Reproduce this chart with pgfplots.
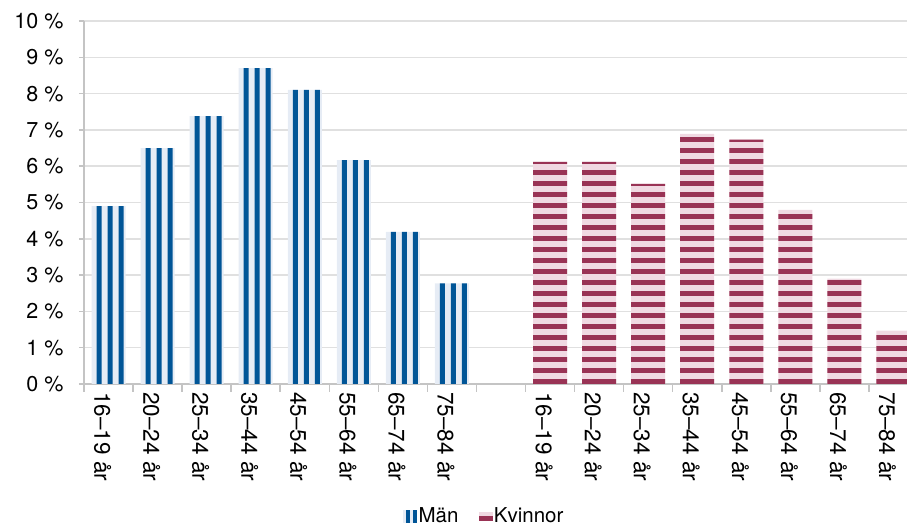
\documentclass[border=0pt]{standalone}
\usepackage{fontspec}
\setmainfont{TeX Gyre Heros}
\usepackage{pgfplots}
\pgfplotsset{compat=1.18}
\definecolor{menblue}{HTML}{005597}
\definecolor{menlight}{HTML}{E6ECF5}
\definecolor{womendark}{HTML}{993355}
\definecolor{womenlight}{HTML}{F0D9E2}
\definecolor{gridgray}{HTML}{E0E0E0}
\definecolor{axisgray}{HTML}{C4C4C4}
\begin{document}
\begin{tikzpicture}
\useasboundingbox (0,0) rectangle (907pt,527pt);
\begin{axis}[
  at={(84pt,143pt)}, anchor=south west,
  scale only axis, width=834pt, height=363pt,
  xmin=-0.5, xmax=16.5, ymin=0, ymax=10,
  axis x line*=bottom, axis y line*=left,
  axis line style={axisgray, line width=1.5pt},
  ytick={0,1,...,10},
  yticklabel={\pgfmathparse{int(\tick)}\pgfmathresult~\%},
  yticklabel style={font=\fontsize{21.5}{24}\selectfont, xshift=-9pt},
  ymajorgrids, grid style={gridgray, line width=1.5pt},
  xtick={-0.5,0.5,...,16.5},
  x tick label as interval,
  xticklabels={16--19 år,20--24 år,25--34 år,35--44 år,45--54 år,55--64 år,65--74 år,75--84 år,,16--19 år,20--24 år,25--34 år,35--44 år,45--54 år,55--64 år,65--74 år,75--84 år},
  xticklabel style={font=\fontsize{22.5}{24}\selectfont, rotate=-90, anchor=west, inner sep=0pt, yshift=-6pt},
  tick align=outside,
  major tick length=8pt,
  ytick style={/pgfplots/major tick length=5pt},
  tick style={axisgray, line width=1.5pt},
  legend style={at={(0.480,-0.364)}, anchor=center, draw=none, fill=none,
    font=\fontsize{20.5}{24}\selectfont, legend columns=2,
    /tikz/every even column/.append style={column sep=18pt}},
]
% Men: light background bars
\addplot[ybar, bar width=34pt, bar shift=0pt, fill=menlight, draw=none, forget plot]
  coordinates {(0,4.9) (1,6.5) (2,7.38) (3,8.7) (4,8.1) (5,6.17) (6,4.19) (7,2.77)};
% Men: vertical stripes
\addplot[ybar, bar width=5pt, bar shift=-9.5pt, fill=menblue, draw=none, forget plot]
  coordinates {(0,4.9) (1,6.5) (2,7.38) (3,8.7) (4,8.1) (5,6.17) (6,4.19) (7,2.77)};
\addplot[ybar, bar width=5pt, bar shift=1.5pt, fill=menblue, draw=none, forget plot]
  coordinates {(0,4.9) (1,6.5) (2,7.38) (3,8.7) (4,8.1) (5,6.17) (6,4.19) (7,2.77)};
\addplot[ybar, bar width=5pt, bar shift=12.5pt, fill=menblue, draw=none, forget plot]
  coordinates {(0,4.9) (1,6.5) (2,7.38) (3,8.7) (4,8.1) (5,6.17) (6,4.19) (7,2.77)};
% Women: horizontal stripes
\addplot[ybar, bar width=34pt, bar shift=0pt, fill=womenlight, draw=none, forget plot,
  path picture={\pgfsetfillcolor{womendark}%
    \foreach \k in {0,...,40}{%
      \pgfpathrectangle{\pgfpointadd{\pgfpointanchor{path picture bounding box}{south west}}{\pgfpoint{-5pt}{\k*11pt}}}{\pgfpoint{900pt}{5pt}}%
      \pgfusepath{fill}}}]
  coordinates {(9,6.12) (10,6.12) (11,5.51) (12,6.89) (13,6.73) (14,4.8) (15,2.9) (16,1.47)};
\addlegendimage{legend image code/.code={
  \fill[menlight] (0pt,-6pt) rectangle (3pt,6pt);
  \fill[menblue] (3pt,-6pt) rectangle (6.5pt,6pt);
  \fill[menlight] (6.5pt,-6pt) rectangle (10pt,6pt);
  \fill[menblue] (10pt,-6pt) rectangle (13pt,6pt);}}
\addlegendentry{Män}
\addlegendimage{legend image code/.code={
  \fill[womenlight] (0pt,0pt) rectangle (13pt,4pt);
  \fill[womendark] (0pt,-4pt) rectangle (13pt,0pt);}}
\addlegendentry{Kvinnor}
\end{axis}
\end{tikzpicture}
\end{document}
